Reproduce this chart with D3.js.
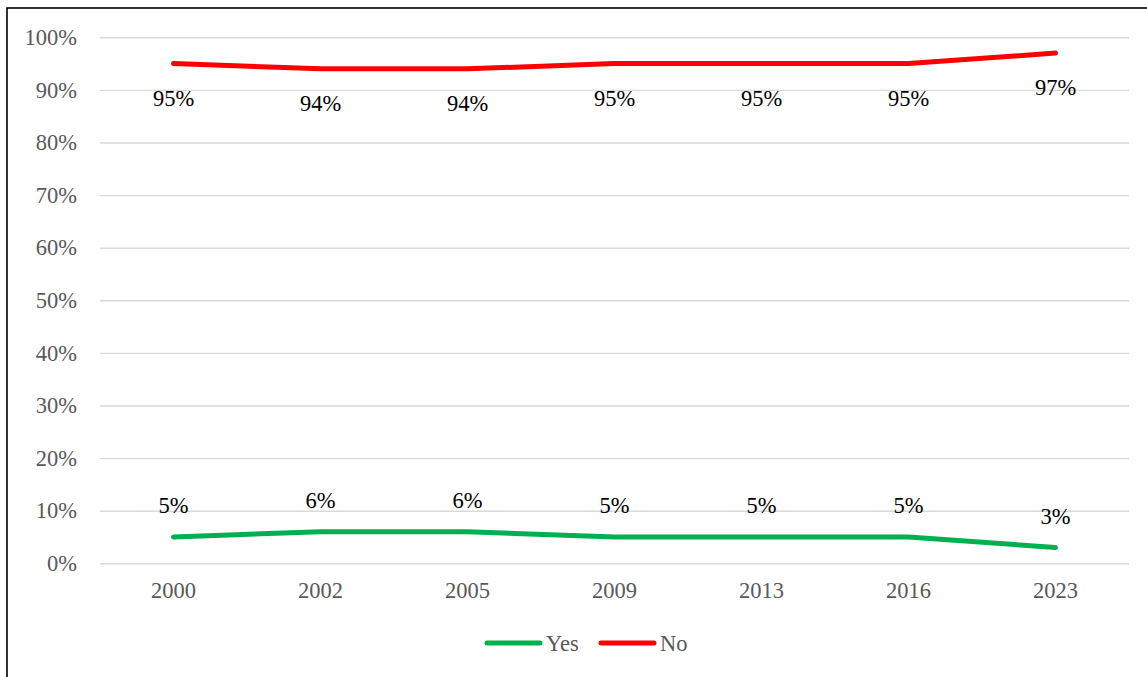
<!DOCTYPE html>
<html>
<head>
<meta charset="utf-8">
<script src="https://cdn.jsdelivr.net/npm/d3@7"></script>
<style>
  html, body { margin: 0; padding: 0; background: #fff; }
</style>
</head>
<body>
<div id="chart"></div>
<script>
const years = ['2000', '2002', '2005', '2009', '2013', '2016', '2023'];
const yesValues = [5, 6, 6, 5, 5, 5, 3];
const noValues = [95, 94, 94, 95, 95, 95, 97];
const yTicks = [0, 10, 20, 30, 40, 50, 60, 70, 80, 90, 100];

const width = 1147,
  height = 677;
const fontFam = 'Liberation Serif';
const fontSize = 22.5;

const margin = { top: 37.3, right: 18, bottom: 113.7, left: 100 };

const svg = d3
  .select('#chart')
  .append('svg')
  .attr('width', width)
  .attr('height', height)
  .attr('font-family', fontFam);

// outer frame (only left/top edges are visible in the picture)
svg
  .append('rect')
  .attr('x', 7)
  .attr('y', 8)
  .attr('width', width + 20)
  .attr('height', height + 20)
  .attr('fill', 'none')
  .attr('stroke', '#000')
  .attr('stroke-width', 1.6);

const x = d3
  .scaleBand()
  .domain(years)
  .range([margin.left, width - margin.right]);

const y = d3
  .scaleLinear()
  .domain([0, 100])
  .range([height - margin.bottom, margin.top]);

// gridlines + y labels
const yAxis = svg
  .append('g')
  .attr('transform', 'translate(' + margin.left + ',0)')
  .call(
    d3
      .axisLeft(y)
      .tickValues(yTicks)
      .tickSize(-(width - margin.left - margin.right))
      .tickPadding(23)
      .tickFormat((d) => d + '%')
  )
  .attr('font-family', fontFam)
  .attr('font-size', fontSize);
yAxis.select('.domain').remove();
yAxis.selectAll('.tick line').attr('stroke', '#d9d9d9').attr('stroke-width', 1.4);
yAxis.selectAll('.tick text').attr('fill', '#595959');

// x labels
const xAxis = svg
  .append('g')
  .attr('transform', 'translate(0,' + (height - margin.bottom) + ')')
  .call(d3.axisBottom(x).tickSize(0).tickPadding(19))
  .attr('font-family', fontFam)
  .attr('font-size', fontSize);
xAxis.select('.domain').remove();
xAxis.selectAll('.tick text').attr('fill', '#595959');

const series = [
  { name: 'Yes', values: yesValues, color: '#00b050', labelDy: -24 },
  { name: 'No', values: noValues, color: '#ff0000', labelDy: 42 },
];

const line = d3
  .line()
  .x((d, i) => x(years[i]) + x.bandwidth() / 2)
  .y((d) => y(d));

series.forEach((s) => {
  svg
    .append('path')
    .datum(s.values)
    .attr('d', line)
    .attr('fill', 'none')
    .attr('stroke', s.color)
    .attr('stroke-width', 5)
    .attr('stroke-linecap', 'round')
    .attr('stroke-linejoin', 'round');

  svg
    .append('g')
    .attr('font-family', fontFam)
    .attr('font-size', fontSize)
    .selectAll('text')
    .data(s.values)
    .join('text')
    .attr('x', (d, i) => x(years[i]) + x.bandwidth() / 2)
    .attr('y', (d) => y(d) + s.labelDy)
    .attr('text-anchor', 'middle')
    .attr('fill', '#000')
    .text((d) => d + '%');
});

// legend
const legend = svg
  .append('g')
  .attr('transform', 'translate(487,643)')
  .attr('font-family', fontFam)
  .attr('font-size', fontSize);
const legendX = [0, 114];
series.forEach((s, i) => {
  const g = legend.append('g').attr('transform', 'translate(' + legendX[i] + ',0)');
  g.append('line')
    .attr('x1', 0)
    .attr('x2', 53)
    .attr('y1', 0)
    .attr('y2', 0)
    .attr('stroke', s.color)
    .attr('stroke-width', 5)
    .attr('stroke-linecap', 'round');
  g.append('text')
    .attr('x', 59)
    .attr('y', 7.5)
    .attr('fill', '#595959')
    .text(s.name);
});
</script>
</body>
</html>
